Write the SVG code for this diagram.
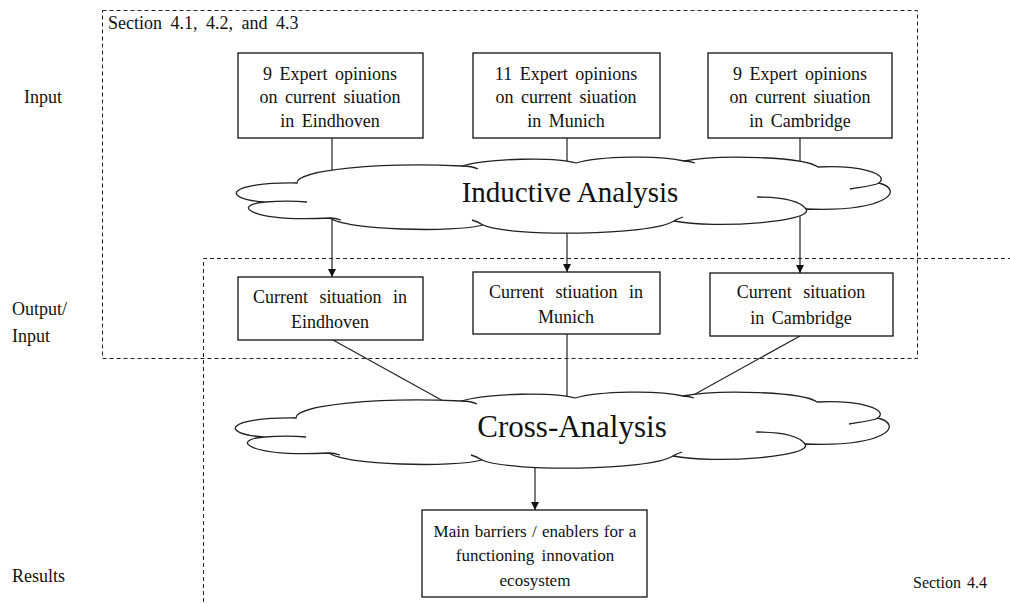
<svg xmlns="http://www.w3.org/2000/svg" width="1010" height="604" viewBox="0 0 1010 604">
  <style>
    .bg { fill: #ffffff; }
    .frame { fill: none; stroke: #222; stroke-width: 1; stroke-dasharray: 4 3; }
    .box { fill: #ffffff; stroke: #111; stroke-width: 1.3; }
    .wire { fill: none; stroke: #222; stroke-width: 1.2; }
    .cloud { fill: #ffffff; stroke: #222; stroke-width: 1.3; }
    .curl { fill: none; stroke: #222; stroke-width: 1.3; }
    text { font-family: "Liberation Serif", "Times New Roman", serif; fill: #111; }
    .t { font-size: 18px; }
    .s { font-size: 17px; }
    .c { text-anchor: middle; word-spacing: 3px; }
    .w { word-spacing: 7px; }
    .big { font-size: 29px; text-anchor: middle; }
    .big2 { font-size: 31px; text-anchor: middle; }
  </style>
  <defs>
    <marker id="arrow" viewBox="0 0 10 10" refX="10" refY="5" markerWidth="8" markerHeight="8" markerUnits="userSpaceOnUse" orient="auto">
      <path d="M0,0 L10,5 L0,10 Z" fill="#111"/>
    </marker>
    <!-- elongated cloud outline with its inner lobe curls -->
    <g id="cloudShape">
      <path class="cloud" d="M 297,183 C 296,170 380,162 462,166 C 490,158 555,157 576,163 C 600,156 660,155 684,161 C 720,154 805,157 818,167 C 860,165 890,174 879,183 C 905,190 888,212 806,209 C 815,222 715,229 674,221 C 650,236 510,237 483,225 C 455,233 345,230 330,218 C 250,222 230,205 265,202 C 220,199 226,182 297,183 Z"/>
      <path class="curl" d="M 265,202 C 280,201 295,201 307,202"/>
      <path class="curl" d="M 850,189 C 862,187 873,186 879,183"/>
      <path class="curl" d="M 757,197 C 785,197 801,202 806,209"/>
      <path class="curl" d="M 462,166 C 468,166 474,167 478,169"/>
      <path class="curl" d="M 684,161 C 689,161 692,162 695,163"/>
      <path class="curl" d="M 483,225 C 480,223 476,221 472,220"/>
      <path class="curl" d="M 330,218 C 334,218 338,219 341,220"/>
      <path class="curl" d="M 674,221 C 677,219 680,218 683,217"/>
    </g>
  </defs>

  <rect class="bg" x="0" y="0" width="1010" height="604"/>

  <!-- section frames -->
  <g id="frames">
    <rect class="frame" x="102.5" y="10.5" width="815" height="348"/>
    <path class="frame" d="M 1012,258.5 L 203.5,258.5 L 203.5,606"/>
    <text class="t" x="108" y="29" style="word-spacing:4px">Section 4.1, 4.2, and 4.3</text>
    <text x="913" y="588" style="font-size:16px;word-spacing:2px">Section 4.4</text>
  </g>

  <!-- row labels -->
  <g id="row-labels">
    <text class="t" x="24" y="103">Input</text>
    <text class="t" x="12" y="315">Output/</text>
    <text class="t" x="12" y="342">Input</text>
    <text class="t" x="12" y="582">Results</text>
  </g>

  <!-- connectors -->
  <g id="connectors">
    <line class="wire" x1="332" y1="138" x2="332" y2="277" marker-end="url(#arrow)"/>
    <line class="wire" x1="567" y1="138" x2="567" y2="272" marker-end="url(#arrow)"/>
    <line class="wire" x1="800" y1="138" x2="800" y2="273" marker-end="url(#arrow)"/>
    <line class="wire" x1="333" y1="340" x2="445" y2="402"/>
    <line class="wire" x1="567" y1="334" x2="567" y2="400"/>
    <line class="wire" x1="800" y1="336" x2="688" y2="398"/>
    <line class="wire" x1="535" y1="460" x2="535" y2="510" marker-end="url(#arrow)"/>
  </g>

  <!-- analysis clouds -->
  <g id="inductive-analysis">
    <use href="#cloudShape"/>
    <text class="big" x="570" y="202">Inductive Analysis</text>
  </g>
  <g id="cross-analysis">
    <use href="#cloudShape" transform="translate(-1,235)"/>
    <text class="big2" x="572" y="437">Cross-Analysis</text>
  </g>

  <!-- expert opinion inputs -->
  <g id="input-eindhoven">
    <rect class="box" x="238" y="53" width="185" height="85"/>
    <text class="t c" x="330" y="80">9 Expert opinions</text>
    <text class="t c" x="330" y="103">on current siuation</text>
    <text class="t c" x="330" y="127">in Eindhoven</text>
  </g>
  <g id="input-munich">
    <rect class="box" x="473" y="53" width="187" height="85"/>
    <text class="t c" x="566" y="80">11 Expert opinions</text>
    <text class="t c" x="566" y="103">on current siuation</text>
    <text class="t c" x="566" y="127">in Munich</text>
  </g>
  <g id="input-cambridge">
    <rect class="box" x="708" y="53" width="184" height="85"/>
    <text class="t c" x="800" y="80">9 Expert opinions</text>
    <text class="t c" x="800" y="103">on current siuation</text>
    <text class="t c" x="800" y="127">in Cambridge</text>
  </g>

  <!-- current situation outputs -->
  <g id="situation-eindhoven">
    <rect class="box" x="238" y="277" width="185" height="63"/>
    <text class="t c w" x="330" y="303">Current situation in</text>
    <text class="t c" x="330" y="328">Eindhoven</text>
  </g>
  <g id="situation-munich">
    <rect class="box" x="473" y="272" width="187" height="62"/>
    <text class="t c w" x="566" y="298">Current stiuation in</text>
    <text class="t c" x="566" y="323">Munich</text>
  </g>
  <g id="situation-cambridge">
    <rect class="box" x="710" y="273" width="183" height="63"/>
    <text class="t c w" x="801" y="298">Current situation</text>
    <text class="t c" x="801" y="324">in Cambridge</text>
  </g>

  <!-- result -->
  <g id="result">
    <rect class="box" x="422" y="510" width="225" height="87"/>
    <text class="s c" x="535" y="537" style="word-spacing:1px">Main barriers / enablers for a</text>
    <text class="s c" x="535" y="561">functioning innovation</text>
    <text class="s c" x="535" y="586">ecosystem</text>
  </g>
</svg>
